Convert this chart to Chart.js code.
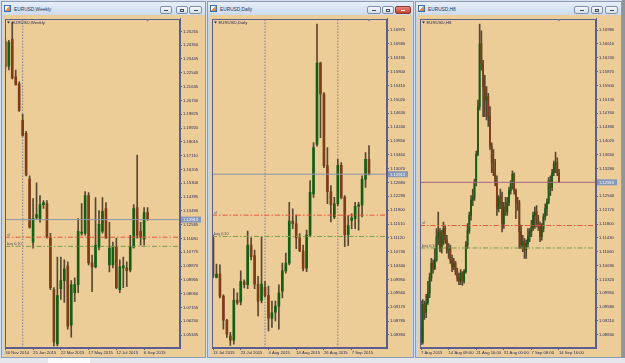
<!DOCTYPE html>
<html>
<head>
<meta charset="utf-8">
<script src="https://cdn.jsdelivr.net/npm/chart.js@4.4.0/dist/chart.umd.min.js"></script>
<style>
  html, body { margin: 0; padding: 0; }
  body { width: 625px; height: 363px; position: relative; overflow: hidden; background: #d7dfea; font-family: 'Liberation Sans', Arial, sans-serif; }
  .win { position: absolute; top: 1px; height: 357px; box-sizing: border-box; border: 1px solid #8a9cb6; background: linear-gradient(#e6eef8, #cddbec 13px, #c4d4e9 14px, #c4d4e9); }
  .ttl { position: absolute; left: 12px; top: 5px; font-size: 4.8px; color: #1c3358; white-space: nowrap; }
  .ico { position: absolute; left: 2px; top: 3px; width: 7px; height: 7px; box-sizing: border-box; border: 1px solid #3b6fb6; background: linear-gradient(135deg, #ffffff 40%, #f0a050 41%, #e07020); }
  .btn { position: absolute; top: 4px; height: 8px; box-sizing: border-box; border: 1px solid #7f90aa; border-radius: 2px; background: linear-gradient(#f7f9fc, #d3deea); }
  .btn.cls { background: linear-gradient(#e88a7e, #c4402f); border-color: #8a3b33; }
  .btn i { position: absolute; left: 50%; top: 50%; width: 4px; height: 1px; margin: -0.5px 0 0 -2px; background: #444c5c; }
  .btn.max i { height: 3px; margin-top: -1.5px; background: transparent; border: 1px solid #444c5c; box-sizing: border-box; }
  .btn.cls i { background: #fff; }
  canvas { position: absolute; background: #ECCD98; }
  .strip { position: absolute; left: 0; top: 358px; width: 625px; height: 5px; background: #e4e6ea; }
  .strip b { position: absolute; left: 48px; top: 0; width: 42px; height: 5px; background: #fbfbfb; }
  .vbar { position: absolute; left: 622px; top: 0; width: 3px; height: 358px; background: #8f959d; }
</style>
</head>
<body>
<div class="win" style="left:1px;width:205px">
  <span class="ico"></span><div class="ttl">EURUSD,Weekly</div>
  <div class="btn" style="left:158px;width:12px"><i></i></div>
  <div class="btn max" style="left:174px;width:12px"><i></i></div>
  <div class="btn" style="left:187px;width:13px"><i></i></div>
</div>
<div class="win" style="left:207px;width:207px">
  <span class="ico"></span><div class="ttl">EURUSD,Daily</div>
  <div class="btn" style="left:159px;width:14px"><i></i></div>
  <div class="btn max" style="left:174px;width:12px"><i></i></div>
  <div class="btn cls" style="left:187px;width:16px"><i></i></div>
</div>
<div class="win" style="left:415px;width:207px">
  <span class="ico"></span><div class="ttl">EURUSD,H8</div>
  <div class="btn" style="left:158px;width:15px"><i></i></div>
  <div class="btn max" style="left:175px;width:12px"><i></i></div>
  <div class="btn" style="left:189px;width:13px"><i></i></div>
</div>
<canvas id="weekly" width="201" height="342" style="left:4px;top:15px"></canvas>
<canvas id="daily" width="202" height="342" style="left:210px;top:15px"></canvas>
<canvas id="h8" width="203" height="342" style="left:418px;top:15px"></canvas>
<div class="strip"><b></b></div>
<div class="vbar"></div>

<script>
// --- Data ---
const bidPrice = 1.12913;
const slLevel = 1.1176;
const buyLevel = 1.1116;

// Weekly
const weeklyOpen = [1.2461, 1.2298, 1.2474, 1.2227, 1.2182, 1.1942, 1.1857, 1.1559, 1.1144, 1.1306,
  1.1293, 1.1390, 1.1397, 1.1176, 1.0832, 1.0476, 1.0839, 1.0891, 1.0988, 1.0599,
  1.0813, 1.0865, 1.1202, 1.1202, 1.1449, 1.1008, 1.0982, 1.1111, 1.1215, 1.1364,
  1.0995, 1.0995, 1.1111, 1.0832, 1.0975, 1.0975, 1.0962, 1.1111, 1.1371, 1.1215,
  1.1163, 1.1338];
const weeklyHigh = [1.2474, 1.2467, 1.2584, 1.2272, 1.2195, 1.1981, 1.1870, 1.1578, 1.1429, 1.1533,
  1.1449, 1.1416, 1.1416, 1.1202, 1.0845, 1.1046, 1.1046, 1.1027, 1.1014, 1.0891,
  1.0910, 1.1299, 1.1397, 1.1475, 1.1468, 1.1059, 1.1436, 1.1351, 1.1436, 1.1403,
  1.1274, 1.1144, 1.1170, 1.1027, 1.1046, 1.1014, 1.1189, 1.1390, 1.1715, 1.1274,
  1.1371, 1.1371];
const weeklyLow = [1.2260, 1.2272, 1.2214, 1.2175, 1.2000, 1.1838, 1.1578, 1.1235, 1.1105, 1.1293,
  1.1274, 1.1364, 1.1170, 1.0832, 1.0463, 1.0463, 1.0768, 1.0748, 1.0573, 1.0521,
  1.0754, 1.0813, 1.1189, 1.1189, 1.0995, 1.0819, 1.0975, 1.1092, 1.1202, 1.1170,
  1.0949, 1.0975, 1.0839, 1.0813, 1.0845, 1.0852, 1.0949, 1.1105, 1.1170, 1.1124,
  1.1124, 1.1286];
const weeklyClose = [1.2292, 1.2454, 1.2221, 1.2175, 1.2007, 1.1844, 1.1585, 1.1241, 1.1299, 1.1325,
  1.1390, 1.1403, 1.1176, 1.0845, 1.0489, 1.0793, 1.0891, 1.0969, 1.0592, 1.0865,
  1.0865, 1.1215, 1.1209, 1.1449, 1.1008, 1.0982, 1.1124, 1.1261, 1.1345, 1.1170,
  1.1105, 1.1111, 1.0845, 1.0982, 1.0988, 1.0956, 1.1111, 1.1364, 1.1189, 1.1176,
  1.1338, 1.1293];
const weeklyTicks = [1.25255, 1.24350, 1.23445, 1.22540, 1.21635, 1.20730, 1.19825, 1.18920, 1.18015,
  1.17110, 1.16205, 1.15300, 1.14395, 1.13490, 1.12585, 1.11680, 1.10775, 1.09870, 1.08965,
  1.08060, 1.07155, 1.06250, 1.05345];
const weeklyDateBars = [0, 8, 16, 24, 32, 40];
const weeklyDates = ['30 Nov 2014', '25 Jan 2015', '22 Mar 2015', '17 May 2015', '12 Jul 2015', '6 Sep 2015'];
const weeklySeparators = [5];

// Daily
const dailyOpen = [1.1112, 1.1001, 1.1010, 1.0948, 1.0880, 1.0836, 1.0824, 1.0936, 1.0932, 1.0988,
  1.0980, 1.1092, 1.1062, 1.0982, 1.0936, 1.0973, 1.0950, 1.0886, 1.0903, 1.0920,
  1.0962, 1.1019, 1.1041, 1.1159, 1.1152, 1.1112, 1.1075, 1.1027, 1.1120, 1.1236,
  1.1375, 1.1604, 1.1517, 1.1315, 1.1242, 1.1171, 1.1208, 1.1316, 1.1226, 1.1121,
  1.1161, 1.1166, 1.1201, 1.1205, 1.1277, 1.1333];
const dailyHigh = [1.1120, 1.1038, 1.1036, 1.0952, 1.0883, 1.0846, 1.0969, 1.0957, 1.1019, 1.0994,
  1.1131, 1.1112, 1.1078, 1.1004, 1.1115, 1.0990, 1.0976, 1.0934, 1.0934, 1.0980,
  1.1041, 1.1069, 1.1212, 1.1194, 1.1177, 1.1124, 1.1092, 1.1134, 1.1273, 1.1380,
  1.1714, 1.1607, 1.1521, 1.1366, 1.1259, 1.1226, 1.1333, 1.1324, 1.1231, 1.1175,
  1.1180, 1.1212, 1.1212, 1.1287, 1.1352, 1.1372];
const dailyLow = [1.0999, 1.0999, 1.0943, 1.0855, 1.0832, 1.0809, 1.0813, 1.0925, 1.0923, 1.0971,
  1.0969, 1.1050, 1.0969, 1.0892, 1.0929, 1.0945, 1.0850, 1.0860, 1.0878, 1.0855,
  1.0943, 1.1013, 1.1036, 1.1138, 1.1082, 1.1073, 1.1019, 1.1017, 1.1115, 1.1226,
  1.1370, 1.1394, 1.1310, 1.1208, 1.1157, 1.1166, 1.1203, 1.1222, 1.1087, 1.1090,
  1.1138, 1.1138, 1.1134, 1.1171, 1.1254, 1.1289];
const dailyClose = [1.1004, 1.1010, 1.0948, 1.0880, 1.0841, 1.0824, 1.0936, 1.0929, 1.0990, 1.0980,
  1.1092, 1.1059, 1.0982, 1.0934, 1.0982, 1.0950, 1.0886, 1.0901, 1.0920, 1.0957,
  1.1019, 1.1041, 1.1159, 1.1152, 1.1112, 1.1075, 1.1027, 1.1120, 1.1240, 1.1366,
  1.1604, 1.1517, 1.1315, 1.1242, 1.1205, 1.1208, 1.1316, 1.1226, 1.1121, 1.1147,
  1.1168, 1.1201, 1.1205, 1.1277, 1.1333, 1.1290];
const dailyTicks = [1.16970, 1.16580, 1.16190, 1.15800, 1.15410, 1.15020, 1.14630, 1.14240, 1.13850,
  1.13460, 1.13070, 1.12680, 1.12290, 1.11900, 1.11510, 1.11120, 1.10730, 1.10340, 1.09950,
  1.09560, 1.09170, 1.08780, 1.08390];
const dailyDateBars = [0, 8, 16, 24, 32, 40];
const dailyDates = ['13 Jul 2015', '23 Jul 2015', '4 Aug 2015', '14 Aug 2015', '26 Aug 2015', '7 Sep 2015'];
const dailySeparators = [15, 36];

// H8
const h8Open = [1.0921, 1.0864, 1.0965, 1.0943, 1.0970, 1.0996, 1.1036, 1.1075, 1.1062, 1.1084,
  1.1146, 1.1159, 1.1115, 1.1150, 1.1168, 1.1137, 1.1111, 1.1115, 1.1084, 1.1066,
  1.1075, 1.1053, 1.1036, 1.1027, 1.1049, 1.1027, 1.1053, 1.1124, 1.1163, 1.1203,
  1.1243, 1.1251, 1.1291, 1.1366, 1.1494, 1.1661, 1.1608, 1.1547, 1.1511, 1.1520,
  1.1467, 1.1388, 1.1344, 1.1317, 1.1291, 1.1221, 1.1251, 1.1238, 1.1181, 1.1225,
  1.1212, 1.1238, 1.1269, 1.1287, 1.1313, 1.1269, 1.1238, 1.1236, 1.1159, 1.1124,
  1.1133, 1.1111, 1.1128, 1.1146, 1.1159, 1.1172, 1.1203, 1.1212, 1.1190, 1.1177,
  1.1146, 1.1168, 1.1199, 1.1221, 1.1238, 1.1296, 1.1278, 1.1317, 1.1340, 1.1344,
  1.1317];
const h8High = [1.0974, 1.0978, 1.0974, 1.0992, 1.1027, 1.1049, 1.1088, 1.1084, 1.1115, 1.1168,
  1.1212, 1.1168, 1.1163, 1.1185, 1.1177, 1.1150, 1.1128, 1.1124, 1.1097, 1.1088,
  1.1080, 1.1062, 1.1049, 1.1058, 1.1053, 1.1058, 1.1133, 1.1181, 1.1212, 1.1256,
  1.1273, 1.1300, 1.1375, 1.1511, 1.1714, 1.1696, 1.1617, 1.1577, 1.1547, 1.1529,
  1.1494, 1.1397, 1.1379, 1.1353, 1.1309, 1.1256, 1.1273, 1.1265, 1.1238, 1.1251,
  1.1251, 1.1278, 1.1296, 1.1322, 1.1317, 1.1273, 1.1251, 1.1243, 1.1177, 1.1150,
  1.1141, 1.1137, 1.1168, 1.1168, 1.1190, 1.1212, 1.1225, 1.1229, 1.1203, 1.1185,
  1.1181, 1.1207, 1.1234, 1.1247, 1.1304, 1.1309, 1.1326, 1.1348, 1.1372, 1.1357,
  1.1326];
const h8Low = [1.0858, 1.0859, 1.0925, 1.0930, 1.0965, 1.0983, 1.1027, 1.1049, 1.1058, 1.1080,
  1.1124, 1.1106, 1.1102, 1.1124, 1.1128, 1.1102, 1.1088, 1.1075, 1.1053, 1.1058,
  1.1044, 1.1027, 1.1018, 1.1018, 1.1016, 1.1022, 1.1049, 1.1115, 1.1155, 1.1190,
  1.1229, 1.1243, 1.1282, 1.1362, 1.1485, 1.1591, 1.1467, 1.1467, 1.1458, 1.1441,
  1.1379, 1.1317, 1.1309, 1.1282, 1.1203, 1.1212, 1.1221, 1.1159, 1.1168, 1.1203,
  1.1203, 1.1229, 1.1260, 1.1273, 1.1260, 1.1194, 1.1216, 1.1115, 1.1115, 1.1106,
  1.1088, 1.1088, 1.1119, 1.1133, 1.1146, 1.1163, 1.1168, 1.1172, 1.1163, 1.1133,
  1.1137, 1.1159, 1.1190, 1.1203, 1.1234, 1.1256, 1.1269, 1.1309, 1.1317, 1.1309,
  1.1291];
const h8Close = [1.0864, 1.0965, 1.0943, 1.0970, 1.0996, 1.1036, 1.1075, 1.1062, 1.1084, 1.1146,
  1.1159, 1.1115, 1.1150, 1.1168, 1.1137, 1.1111, 1.1115, 1.1084, 1.1066, 1.1075,
  1.1053, 1.1036, 1.1027, 1.1049, 1.1027, 1.1053, 1.1124, 1.1163, 1.1203, 1.1243,
  1.1251, 1.1291, 1.1366, 1.1494, 1.1661, 1.1608, 1.1547, 1.1511, 1.1520, 1.1467,
  1.1388, 1.1344, 1.1317, 1.1291, 1.1221, 1.1251, 1.1238, 1.1181, 1.1225, 1.1212,
  1.1238, 1.1269, 1.1287, 1.1313, 1.1269, 1.1238, 1.1236, 1.1159, 1.1124, 1.1133,
  1.1111, 1.1128, 1.1146, 1.1159, 1.1172, 1.1203, 1.1212, 1.1190, 1.1177, 1.1146,
  1.1168, 1.1199, 1.1221, 1.1238, 1.1296, 1.1278, 1.1317, 1.1340, 1.1344, 1.1317,
  1.1293];
const h8Ticks = [1.16980, 1.16610, 1.16240, 1.15870, 1.15500, 1.15130, 1.14760, 1.14390, 1.14020,
  1.13650, 1.13280, 1.12910, 1.12540, 1.12170, 1.11800, 1.11430, 1.11060, 1.10690, 1.10320,
  1.09950, 1.09580, 1.09210, 1.08840];
const h8DateBars = [0, 16, 32, 48, 64, 80];
const h8Dates = ['7 Aug 2015', '14 Aug 08:00', '21 Aug 16:00', '31 Aug 00:00', '7 Sep 08:00', '14 Sep 16:00'];
const h8Separators = [];

// --- Styling ---
const AXIS = '#5b5f8f';
const TEXT = '#262a5c';
const WICK = '#574830';
const BULL = '#135f14';
const BEAR = '#7e3d19';
const SEP = '#7a7aa6';
const SL_COLOR = '#e9563c';
const BUY_COLOR = '#7a9c4a';
const FONT = 'Liberation Sans';

// draws the plot frame, the small captions and the bid price box
const chartDecor = {
    id: 'chartDecor',
    afterDraw(chart, args, opts) {
        const { ctx, chartArea: a, scales: { x, y } } = chart;
        ctx.save();
        ctx.strokeStyle = AXIS;
        ctx.lineWidth = 1;
        ctx.strokeRect(Math.round(a.left) + 0.5, Math.round(a.top) + 0.5,
            Math.round(a.right - a.left) - 1, Math.round(a.bottom - a.top) - 1);

        // symbol caption top left
        ctx.fillStyle = '#1e2150';
        ctx.beginPath();
        ctx.moveTo(a.left + 2, a.top + 3);
        ctx.lineTo(a.left + 5, a.top + 3);
        ctx.lineTo(a.left + 3.5, a.top + 5);
        ctx.fill();
        ctx.font = '4.3px "' + FONT + '"';
        ctx.textBaseline = 'middle';
        ctx.textAlign = 'left';
        ctx.fillText(opts.caption, a.left + 6.5, a.top + 4.2);

        // chart shift marker over the last bar
        const mx = x.getPixelForValue(opts.lastBar);
        ctx.fillStyle = '#7f86ad';
        ctx.beginPath();
        ctx.moveTo(mx - 2, a.top + 1);
        ctx.lineTo(mx + 2, a.top + 1);
        ctx.lineTo(mx, a.top + 3);
        ctx.fill();

        // order labels
        ctx.fillStyle = '#4a4660';
        ctx.font = '3.8px "' + FONT + '"';
        ctx.textBaseline = 'bottom';
        ctx.fillText('sl', a.left + 2, y.getPixelForValue(slLevel) - 0.5);
        ctx.fillText('buy 0.10', a.left + 2, y.getPixelForValue(buyLevel) - 0.5);

        // bid box on the price scale
        const by = y.getPixelForValue(bidPrice);
        ctx.fillStyle = '#8797b7';
        ctx.fillRect(a.right + 1, by - 3, 20, 6);
        ctx.fillStyle = '#ffffff';
        ctx.font = '4.2px "' + FONT + '"';
        ctx.textBaseline = 'middle';
        ctx.fillText(bidPrice.toFixed(5), a.right + 3, by + 0.2);
        ctx.restore();
    }
};

function makeChart(id, d) {
    const wicks = d.open.map((o, i) => ({ x: i, y: [d.low[i], d.high[i]] }));
    const bodies = d.open.map((o, i) => ({ x: i, y: [Math.min(o, d.close[i]), Math.max(o, d.close[i])] }));
    const bodyColors = d.open.map((o, i) => d.close[i] >= o ? BULL : BEAR);
    const level = v => [{ x: d.xMin, y: v }, { x: d.xMax, y: v }];

    const datasets = d.separators.map(s => ({
        type: 'line',
        data: [{ x: s, y: d.yMin }, { x: s, y: d.yMax }],
        borderColor: SEP, borderWidth: 1, borderDash: [1.5, 1.5], pointRadius: 0, order: 6
    }));
    datasets.push(
        { type: 'bar', data: wicks, backgroundColor: WICK, barThickness: 1, order: 5 },
        { type: 'bar', data: bodies, backgroundColor: bodyColors, barThickness: d.bodyWidth, minBarLength: 1, order: 4 },
        { type: 'line', data: level(bidPrice), borderColor: d.bidColor, borderWidth: 1, pointRadius: 0, order: 3 },
        { type: 'line', data: level(slLevel), borderColor: SL_COLOR, borderWidth: 1, borderDash: [5, 2, 1.5, 2], pointRadius: 0, order: 2 },
        { type: 'line', data: level(buyLevel), borderColor: BUY_COLOR, borderWidth: 1, borderDash: [5, 2, 1.5, 2], pointRadius: 0, order: 1 }
    );

    const tickFont = { family: FONT, size: 4.2 };

    return new Chart(document.getElementById(id), {
        type: 'bar',
        data: { datasets },
        plugins: [chartDecor],
        options: {
            responsive: false,
            animation: false,
            events: [],
            layout: { padding: { left: d.padLeft, top: 0, right: 0, bottom: 0 } },
            datasets: { bar: { grouped: false } },
            plugins: {
                legend: { display: false },
                tooltip: { enabled: false },
                chartDecor: { caption: d.caption, lastBar: d.open.length - 1 }
            },
            scales: {
                x: {
                    type: 'linear',
                    min: d.xMin,
                    max: d.xMax,
                    offset: false,
                    grid: { offset: false, drawOnChartArea: false, tickLength: 2, color: AXIS },
                    border: { color: AXIS },
                    afterBuildTicks: s => { s.ticks = d.dateBars.map(v => ({ value: v })); },
                    afterFit: s => { s.height = 9; },
                    ticks: {
                        align: 'start',
                        autoSkip: false,
                        maxRotation: 0,
                        padding: 0,
                        color: TEXT,
                        font: tickFont,
                        callback: v => d.dates[d.dateBars.indexOf(v)]
                    }
                },
                y: {
                    position: 'right',
                    min: d.yMin,
                    max: d.yMax,
                    grid: { drawOnChartArea: false, tickLength: 2, color: AXIS },
                    border: { color: AXIS },
                    afterBuildTicks: s => { s.ticks = d.ticks.map(v => ({ value: v })); },
                    afterFit: s => { s.width = d.axisWidth; },
                    ticks: {
                        autoSkip: false,
                        padding: 1,
                        color: TEXT,
                        font: tickFont,
                        callback: v => v.toFixed(5)
                    }
                }
            }
        }
    });
}

makeChart('weekly', {
    open: weeklyOpen, high: weeklyHigh, low: weeklyLow, close: weeklyClose,
    ticks: weeklyTicks, dates: weeklyDates, dateBars: weeklyDateBars, separators: weeklySeparators,
    caption: 'EURUSD,Weekly', bidColor: '#8a94ae',
    xMin: -0.09, xMax: 50.34, yMin: 1.04497, yMax: 1.26098,
    bodyWidth: 2, padLeft: 1, axisWidth: 25
});
makeChart('daily', {
    open: dailyOpen, high: dailyHigh, low: dailyLow, close: dailyClose,
    ticks: dailyTicks, dates: dailyDates, dateBars: dailyDateBars, separators: dailySeparators,
    caption: 'EURUSD,Daily', bidColor: '#8a94ae',
    xMin: -0.29, xMax: 50.19, yMin: 1.08020, yMax: 1.17296,
    bodyWidth: 2, padLeft: 2, axisWidth: 25
});
makeChart('h8', {
    open: h8Open, high: h8High, low: h8Low, close: h8Close,
    ticks: h8Ticks, dates: h8Dates, dateBars: h8DateBars, separators: h8Separators,
    caption: 'EURUSD,H8', bidColor: '#a8647e',
    xMin: -0.58, xMax: 101.45, yMin: 1.08488, yMax: 1.17289,
    bodyWidth: 1.2, padLeft: 2, axisWidth: 25
});
</script>
</body>
</html>
